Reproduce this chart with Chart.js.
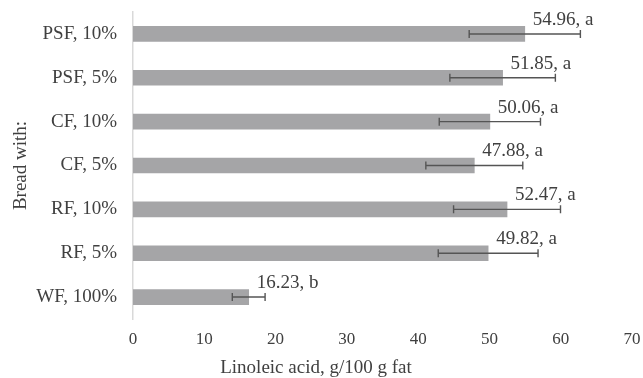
<!DOCTYPE html>
<html><head><meta charset="utf-8">
<script src="https://cdn.jsdelivr.net/npm/chart.js@4.4.1/dist/chart.umd.min.js"></script>
<style>html,body{margin:0;padding:0;background:#fff}#wrap{width:643px;height:378px}</style>
</head><body><div id="wrap"><canvas id="c" width="643" height="378"></canvas></div>
<script>
const categories = ['PSF, 10%', 'PSF, 5%', 'CF, 10%', 'CF, 5%', 'RF, 10%', 'RF, 5%', 'WF, 100%'];
const values = [54.96, 51.85, 50.06, 47.88, 52.47, 49.82, 16.23];
const errors = [7.8, 7.4, 7.1, 6.8, 7.5, 7.0, 2.3];
const letters = ['a', 'a', 'a', 'a', 'a', 'a', 'b'];
const xTicks = [0, 10, 20, 30, 40, 50, 60, 70];

const FONT = "'Liberation Serif', 'Times New Roman', serif";
const TEXT = '#404040';

const errorBars = {
  id: 'errorBars',
  afterDatasetsDraw(chart) {
    const ctx = chart.ctx;
    const xs = chart.scales.x;
    const meta = chart.getDatasetMeta(0);
    ctx.save();
    ctx.strokeStyle = '#555555';
    ctx.lineWidth = 1.4;
    meta.data.forEach((bar, i) => {
      const y = bar.y;
      const x1 = xs.getPixelForValue(values[i] - errors[i]);
      const x2 = xs.getPixelForValue(values[i] + errors[i]);
      ctx.beginPath();
      ctx.moveTo(x1, y); ctx.lineTo(x2, y);
      ctx.moveTo(x1, y - 4); ctx.lineTo(x1, y + 4);
      ctx.moveTo(x2, y - 4); ctx.lineTo(x2, y + 4);
      ctx.stroke();
    });
    ctx.fillStyle = TEXT;
    ctx.font = '19px ' + FONT;
    ctx.textAlign = 'left';
    ctx.textBaseline = 'middle';
    meta.data.forEach((bar, i) => {
      ctx.fillText(values[i].toFixed(2) + ', ' + letters[i], bar.x + 8, bar.y - 14);
    });
    ctx.restore();
  }
};

new Chart(document.getElementById('c'), {
  type: 'bar',
  data: {
    labels: categories,
    datasets: [{
      data: values,
      backgroundColor: '#a5a5a7',
      borderWidth: 0,
      barThickness: 15
    }]
  },
  options: {
    indexAxis: 'y',
    responsive: false,
    animation: false,
    layout: { padding: { top: 12, right: 11, left: 0, bottom: 0 } },
    plugins: {
      legend: { display: false },
      tooltip: { enabled: false },
      title: {
        display: true,
        position: 'bottom',
        text: 'Linoleic acid, g/100 g fat',
        color: TEXT,
        font: { family: FONT, size: 19, weight: 'normal', lineHeight: 1 },
        padding: { top: 6, bottom: 0 }
      }
    },
    scales: {
      x: {
        min: 0, max: 70,
        afterBuildTicks(scale) { scale.ticks = xTicks.map(v => ({ value: v })); },
        grid: { display: false, drawTicks: false },
        border: { display: false },
        ticks: { color: TEXT, font: { family: FONT, size: 17 }, padding: 10, maxRotation: 0 },
        afterFit(scale) { scale.height = 34; scale.paddingLeft = 0; scale.paddingRight = 0; }
      },
      y: {
        grid: { display: false, drawTicks: false },
        border: { display: true, color: '#d9d9d9', width: 1.5 },
        ticks: { color: TEXT, font: { family: FONT, size: 19 }, padding: 16 },
        title: {
          display: true,
          text: 'Bread with:',
          color: TEXT,
          font: { family: FONT, size: 19 },
          padding: { top: 10, bottom: 0 }
        },
        afterFit(scale) { scale.width = 133; scale.paddingTop = 0; scale.paddingBottom = 0; }
      }
    }
  },
  plugins: [errorBars]
});
</script></body></html>
